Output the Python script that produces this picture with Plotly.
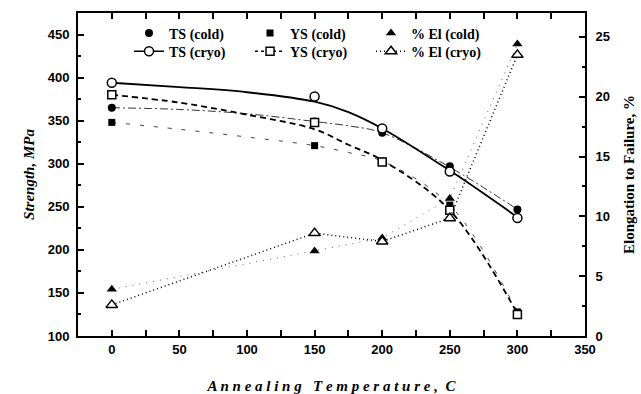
import plotly.graph_objects as go

# ---- data ----
temps = [0, 150, 200, 250, 300]
ts_cold = [365, 349, 336, 297, 247]
ys_cold = [348, 321, 303, 252, 128]
el_cold = [3.9, 7.1, 8.2, 11.5, 24.4]
ts_cryo = [394, 378, 341, 291, 237]
ys_cryo = [380, 348, 302, 246, 125]
el_cryo = [2.6, 8.6, 7.9, 9.85, 23.5]

# smooth fitted curves
temps_fit = [0, 50, 100, 150, 175, 200, 250, 300]
ts_cryo_fit = [394, 389, 383, 372, 360, 341, 292, 238]
ys_cryo_fit = [380, 371, 357, 340, 322, 304, 246, 126]
ts_cold_fit = [365, 363, 358, 349, 344, 336, 296, 247]
ys_cold_fit = [348, 340, 331, 321, 313, 303, 252, 128]

x_ticks = [0, 50, 100, 150, 200, 250, 300, 350]
y_ticks = [100, 150, 200, 250, 300, 350, 400, 450]
y2_ticks = [0, 5, 10, 15, 20, 25]

fig = go.Figure()

# thin fit lines for cold series (no legend)
fig.add_trace(go.Scatter(x=temps_fit, y=ts_cold_fit, mode="lines", line_shape="spline",
                         line=dict(color="#333", width=1, dash="8px,3px,2px,3px"), showlegend=False))
fig.add_trace(go.Scatter(x=temps_fit, y=ys_cold_fit, mode="lines", line_shape="spline",
                         line=dict(color="#444", width=1, dash="4px,10px"), showlegend=False))
fig.add_trace(go.Scatter(x=temps, y=el_cold, yaxis="y2", mode="lines",
                         line=dict(color="#666", width=1, dash="1px,6px"), showlegend=False))
# thick fit lines for cryo series
fig.add_trace(go.Scatter(x=temps_fit, y=ts_cryo_fit, mode="lines", line_shape="spline",
                         line=dict(color="black", width=1.8), showlegend=False))
fig.add_trace(go.Scatter(x=temps_fit, y=ys_cryo_fit, mode="lines", line_shape="spline",
                         line=dict(color="black", width=1.8, dash="6px,4px"), showlegend=False))

# markers + legend (cold row)
fig.add_trace(go.Scatter(x=temps, y=ts_cold, mode="markers", name="TS (cold)", legend="legend",
                         marker=dict(symbol="circle", size=8, color="black")))
fig.add_trace(go.Scatter(x=temps, y=ys_cold, mode="markers", name="YS (cold)", legend="legend",
                         marker=dict(symbol="square", size=7, color="black")))
fig.add_trace(go.Scatter(x=temps, y=el_cold, yaxis="y2", mode="markers", name="% El (cold)", legend="legend",
                         marker=dict(symbol="triangle-up", size=9, color="black")))

fig.add_trace(go.Scatter(x=temps, y=ts_cryo, mode="markers", showlegend=False,
                         marker=dict(symbol="circle", size=9, color="white", line=dict(color="black", width=1.5))))
fig.add_trace(go.Scatter(x=temps, y=ys_cryo, mode="markers", showlegend=False,
                         marker=dict(symbol="square", size=8, color="white", line=dict(color="black", width=1.5))))
# cryo legend row
fig.add_trace(go.Scatter(x=[None], y=[None], mode="lines+markers", name="TS (cryo)", legend="legend2",
                         line=dict(color="black", width=1.5),
                         marker=dict(symbol="circle", size=9, color="white", line=dict(color="black", width=1.5))))
fig.add_trace(go.Scatter(x=[None], y=[None], mode="lines+markers", name="YS (cryo)", legend="legend2",
                         line=dict(color="black", width=1.5, dash="3px,3px"),
                         marker=dict(symbol="square", size=8, color="white", line=dict(color="black", width=1.5))))
fig.add_trace(go.Scatter(x=temps, y=el_cryo, yaxis="y2", mode="lines+markers", name="% El (cryo)", legend="legend2",
                         line=dict(color="black", width=1.5, dash="1px,3px"),
                         marker=dict(symbol="triangle-up", size=10, color="white", line=dict(color="black", width=1.5))))

tickfont = dict(family="Liberation Sans", size=13, color="black", weight="bold")
legfont = dict(family="Liberation Serif", size=14, color="black", weight="bold")
leg_common = dict(orientation="h", xanchor="left", yanchor="top",
                  entrywidth=76, entrywidthmode="pixels", traceorder="normal",
                  font=legfont, bgcolor="rgba(0,0,0,0)", itemwidth=30)

fig.update_layout(
    width=641, height=394,
    margin=dict(l=78, r=56, t=13, b=58),
    paper_bgcolor="white", plot_bgcolor="white",
    showlegend=True,
    legend=dict(x=0.1006, y=0.986, **leg_common),
    legend2=dict(x=0.1006, y=0.930, **leg_common),
    xaxis=dict(range=[-25, 350], tickvals=x_ticks, ticktext=[str(v) for v in x_ticks],
               automargin=False,
               showline=True, linecolor="black", linewidth=2, mirror="allticks",
               ticks="inside", ticklen=6, tickwidth=1.5, tickcolor="black",
               minor=dict(dtick=25, tick0=0, ticks="inside", ticklen=3, tickcolor="black", tickwidth=1.5),
               showgrid=False, zeroline=False, tickfont=tickfont,
               title=dict(text="<i>A n n e a l i n g   T e m p e r a t u r e ,  C</i>",
                          font=dict(family="Liberation Serif", size=15, color="black", weight="bold"),
                          standoff=25)),
    yaxis=dict(range=[100, 475], tickvals=y_ticks, ticktext=[str(v) for v in y_ticks],
               automargin=False,
               showline=True, linecolor="black", linewidth=2,
               ticks="inside", ticklen=6, tickwidth=1.5, tickcolor="black",
               minor=dict(dtick=25, tick0=100, ticks="inside", ticklen=3, tickcolor="black", tickwidth=1.5),
               showgrid=False, zeroline=False, tickfont=tickfont, ticklabelstandoff=4,
               title=dict(text="<i>Strength, MPa</i>",
                          font=dict(family="Liberation Serif", size=15, color="black", weight="bold"),
                          standoff=9)),
    yaxis2=dict(range=[0, 27], overlaying="y", side="right", tickvals=y2_ticks,
                ticktext=[str(v) for v in y2_ticks], automargin=False,
                showline=True, linecolor="black", linewidth=2,
                ticks="inside", ticklen=6, tickwidth=1.5, tickcolor="black",
                minor=dict(dtick=2.5, tick0=0, ticks="inside", ticklen=3, tickcolor="black", tickwidth=1.5),
                showgrid=False, zeroline=False, tickfont=tickfont, ticklabelstandoff=6,
                title=dict(text="Elongation to Failure, %",
                           font=dict(family="Liberation Serif", size=15, color="black", weight="bold"),
                           standoff=14)),
)

fig.write_html("out.html", config={"displayModeBar": False},
               post_script="document.body.style.margin='0';")
